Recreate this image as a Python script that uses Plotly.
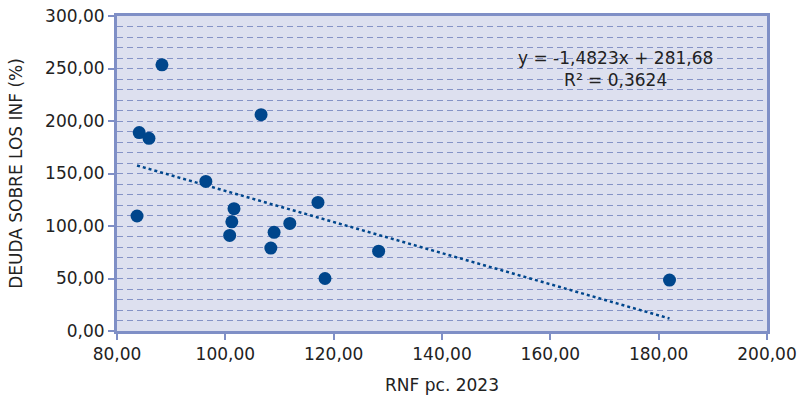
import plotly.graph_objects as go
import numpy as np

rnf = [83.7, 84.1, 85.9, 88.3, 96.4, 106.6, 100.8, 101.2, 101.6, 108.4, 109.0, 111.9, 117.1, 118.4, 128.3, 182.0]
deuda = [109.5, 189.0, 183.5, 253.5, 142.5, 206.0, 91.0, 104.0, 116.5, 79.0, 94.0, 102.5, 122.5, 50.0, 76.0, 48.5]

slope = -1.4823
intercept = 281.68
eq_text = "y = -1,4823x + 281,68<br>R² = 0,3624"

xticks = [80, 100, 120, 140, 160, 180, 200]
yticks = [0, 50, 100, 150, 200, 250, 300]

def fmt(v):
    return f"{v:.2f}".replace(".", ",")

tx = np.array([min(rnf), max(rnf)])
ty = slope * tx + intercept

blue = "#00468c"
border = "#7f8fc6"
grid = "#8593c6"
font = "DejaVu Sans"
txtcol = "#222222"

fig = go.Figure()
fig.add_trace(go.Scatter(x=tx, y=ty, mode="lines",
                         line=dict(color=blue, width=2.5, dash="dot"),
                         hoverinfo="skip", showlegend=False))
fig.add_trace(go.Scatter(x=rnf, y=deuda, mode="markers",
                         marker=dict(color=blue, size=13),
                         showlegend=False))

fig.add_annotation(x=172.1, y=249.5, xref="x", yref="y", text=eq_text,
                   showarrow=False, font=dict(family=font, size=17, color=txtcol),
                   align="center")

fig.update_layout(
    width=798, height=401,
    margin=dict(l=117, r=31, t=16, b=70),
    paper_bgcolor="white",
    plot_bgcolor="#dde0ef",
    font=dict(family=font, size=17, color=txtcol),
    xaxis=dict(range=[80, 200], tickvals=xticks, ticktext=[fmt(v) for v in xticks],
               automargin=False,
               showgrid=False, zeroline=False,
               showline=True, linecolor=border, linewidth=3, mirror=True,
               ticks="outside", ticklen=6, tickcolor=border, tickwidth=1.5,
               title=dict(text="RNF pc. 2023", standoff=16,
                          font=dict(family=font, size=17, color=txtcol))),
    yaxis=dict(range=[0, 300], tickvals=yticks, ticktext=[fmt(v) for v in yticks],
               automargin=False,
               showgrid=True, gridcolor=grid, griddash="6px,4px", gridwidth=1,
               zeroline=False,
               showline=True, linecolor=border, linewidth=3, mirror=True,
               ticks="outside", ticklen=6, tickcolor=border, tickwidth=1.5,
               title=dict(text="DEUDA SOBRE LOS INF (%)", standoff=19,
                          font=dict(family=font, size=17, color=txtcol))),
)
fig.update_yaxes(minor=dict(dtick=10, tick0=0, showgrid=True, gridcolor=grid,
                            griddash="6px,4px", gridwidth=1, ticks=""))

fig.write_html("out.html", config={"displayModeBar": False},
               post_script="document.body.style.margin='0';")
